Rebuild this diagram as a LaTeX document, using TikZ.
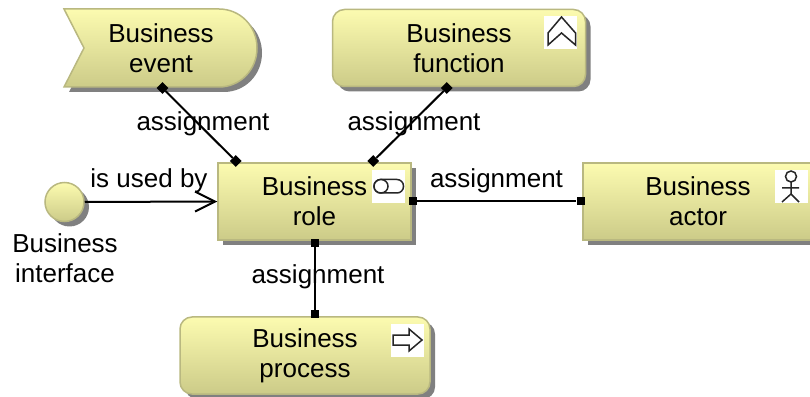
\documentclass[tikz,border=0pt]{standalone}
\usepackage{xcolor}
\usepackage{tikz}
\usepackage{fontspec}
\setmainfont{Liberation Sans}
\usetikzlibrary{shapes,arrows,positioning,calc,shadows,arrows.meta}
\definecolor{elemtop}{HTML}{FCFBB0}
\definecolor{elembottom}{HTML}{CCCB88}
\definecolor{elemedge}{HTML}{B9B880}
\definecolor{shadowgray}{HTML}{808080}
\tikzset{
    elemfill/.style={draw=elemedge, line width=1.5pt, top color=elemtop, bottom color=elembottom,
        general shadow={shadow xshift=5pt, shadow yshift=-5pt, fill=shadowgray}},
    elembox/.style={elemfill, rectangle, align=center, inner sep=0pt, minimum height=77pt},
    elemround/.style={elembox, rounded corners=12pt},
    caption/.style={align=center, inner sep=0pt},
    iconbox/.style={fill=white, minimum size=33pt, inner sep=0pt},
    icon/.style={draw=black!85, line width=1.5pt, fill=white},
    portsquare/.style={rectangle, fill=black, minimum size=8pt, inner sep=0pt},
    portdiamond/.style={diamond, fill=black, minimum size=12pt, inner sep=0pt},
    link/.style={line width=2pt, black}
}
\begin{document}
\begin{tikzpicture}[x=1pt, y=1pt, font=\fontsize{26}{30}\selectfont]
    \useasboundingbox (0,0) rectangle (810,396);

    % elements
    \filldraw[elemfill] (64,387) -- (219,387) .. controls (240,387) and (257,370) .. (257,348)
        .. controls (257,326) and (240,309) .. (219,309) -- (64,309) -- (84,348) -- cycle;
    \node[caption] (event) at (161,348) {Business\\event};
    \node[elemround, minimum width=253pt] (function) at (459,348) {Business\\function};
    \node[elembox, minimum width=193pt] (role) at (314.5,194.5) {Business\\role};
    \node[elembox, minimum width=230pt] (actor) at (698,194.5) {Business\\actor};
    \node[elemround, minimum width=250pt] (process) at (305,40.5) {Business\\process};
    \node[elemfill, circle, minimum size=39pt, inner sep=0pt] (interface) at (64.5,194) {};
    \node[caption] (interfacetext) at (65,138) {Business\\interface};

    % icons
    \node[iconbox] (functionicon) at (560.5,363.5) {};
    \node[iconbox] (roleicon) at (388.5,209.5) {};
    \node[iconbox] (actoricon) at (791.5,209.5) {};
    \node[iconbox] (processicon) at (407.5,55.5) {};
    \draw[icon] (561.5,379) -- (575.5,363) -- (575.5,351) -- (561.5,363) -- (548,351) -- (548,363) -- cycle;
    \draw[icon, rounded corners=6.5pt] (374,203) rectangle (403.5,216.5);
    \draw[icon] (381,209.75) ellipse (7pt and 6.75pt);
    \draw[icon] (791,219.5) circle (5.5pt);
    \draw[icon] (791,214) -- (791,202) (782,208) -- (799,208) (782,194) -- (791,202) -- (799,194);
    \draw[icon] (393,61) -- (409,61) -- (409,67) -- (422,56) -- (409,45) -- (409,51) -- (393,51) -- cycle;

    % ports
    \node[portdiamond] (eventport) at (162.5,308) {};
    \node[portdiamond] (functionport) at (446.7,308) {};
    \node[portdiamond] (roleleftport) at (235.7,235) {};
    \node[portdiamond] (rolerightport) at (373.3,235) {};
    \node[portsquare] (roleeastport) at (413,194.5) {};
    \node[portsquare] (rolesouthport) at (314.5,153) {};
    \node[portsquare] (actorport) at (580.5,194.5) {};
    \node[portsquare] (processport) at (314.5,82) {};

    % connectors
    \draw[link] (eventport) -- (roleleftport);
    \draw[link] (functionport) -- (rolerightport);
    \draw[link] (roleeastport) -- (actorport);
    \draw[link] (rolesouthport) -- (processport);
    \draw[link, -{Straight Barb[length=20pt, width=20pt]}] (interface.east) -- (role.west);

    % labels
    \node[caption] (eventlabel) at (203,272) {assignment};
    \node[caption] (functionlabel) at (414,272) {assignment};
    \node[caption] (actorlabel) at (496.5,215.5) {assignment};
    \node[caption] (processlabel) at (318,119) {assignment};
    \node[caption] (interfacelabel) at (149,215.5) {is used by};
\end{tikzpicture}
\end{document}
